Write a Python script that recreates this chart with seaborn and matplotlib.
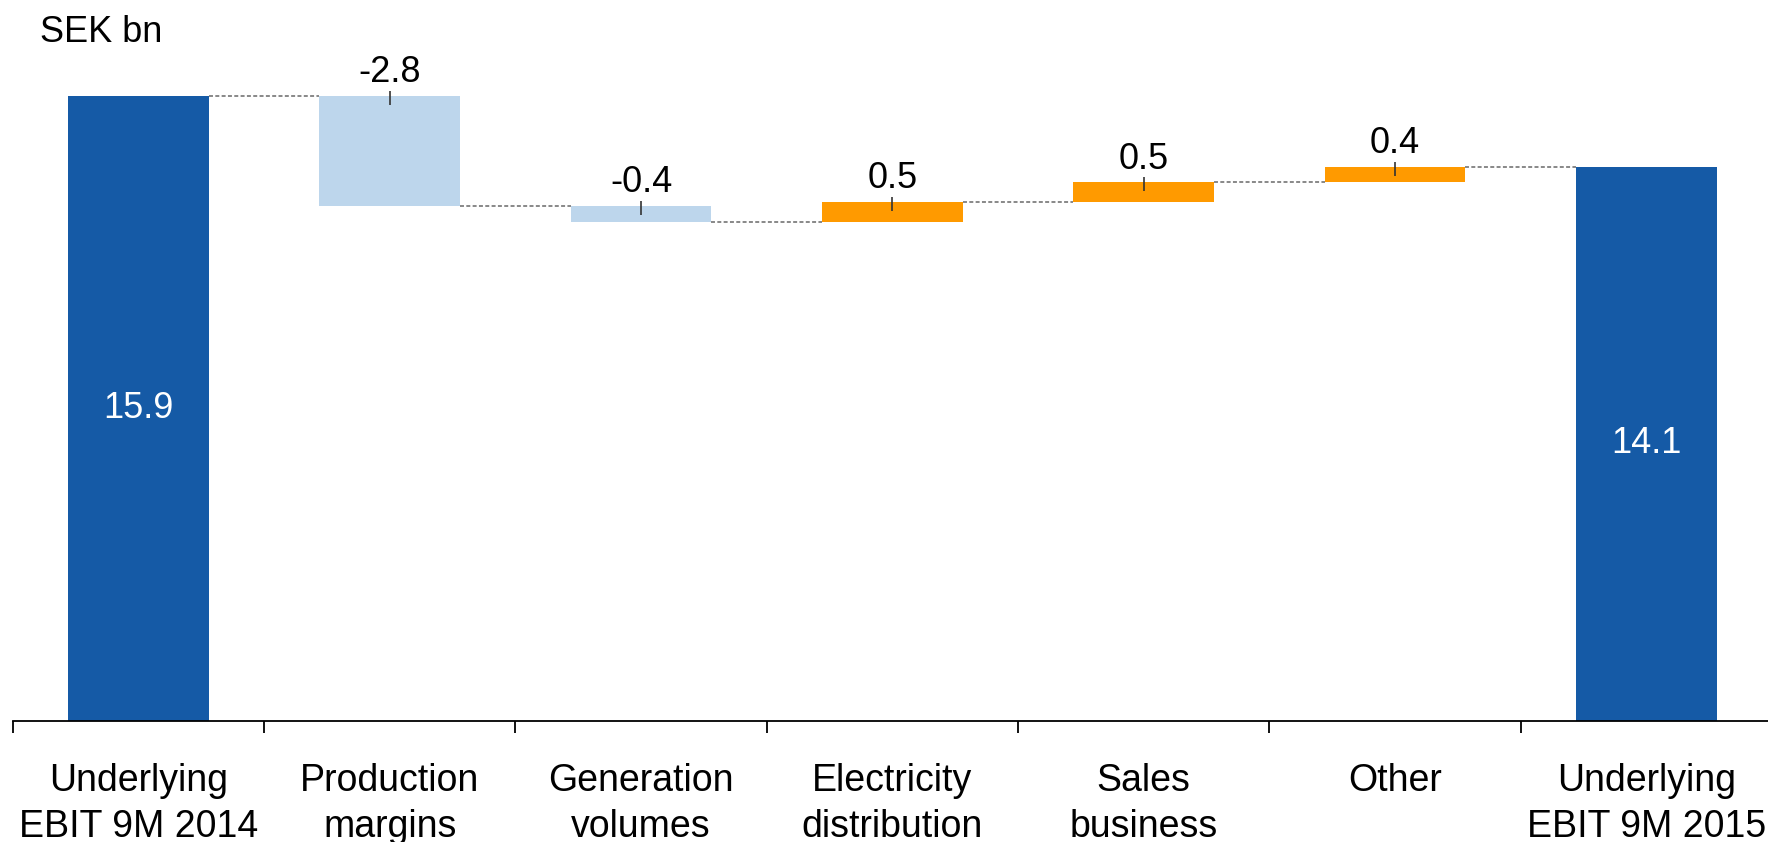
import matplotlib
matplotlib.use("Agg")
import matplotlib.pyplot as plt
import numpy as np
import pandas as pd
import seaborn as sns

# ---- data -------------------------------------------------------------
categories = [
    "Underlying\nEBIT 9M 2014",
    "Production\nmargins",
    "Generation\nvolumes",
    "Electricity\ndistribution",
    "Sales\nbusiness",
    "Other",
    "Underlying\nEBIT 9M 2015",
]
start_total = 15.9
changes = [-2.8, -0.4, 0.5, 0.5, 0.4]
end_total = 14.1
unit_label = "SEK bn"

# ---- styling ----------------------------------------------------------
TOTAL_COLOR = "#155AA6"
DECREASE_COLOR = "#BDD6EC"
INCREASE_COLOR = "#FF9A00"
CONNECTOR_COLOR = "#7F7F7F"
FONT_SIZE = 26
TICK_FONT_SIZE = 27
BAR_WIDTH = 0.56

sns.set_style("white")
plt.rcParams["font.family"] = ["Liberation Sans", "DejaVu Sans"]

# running level after each step of the bridge
levels = [start_total]
for c in changes:
    levels.append(round(levels[-1] + c, 2))

bottoms = [0.0]
heights = [start_total]
colors = [TOTAL_COLOR]
for i, c in enumerate(changes):
    bottoms.append(min(levels[i], levels[i + 1]))
    heights.append(abs(c))
    colors.append(INCREASE_COLOR if c > 0 else DECREASE_COLOR)
bottoms.append(0.0)
heights.append(end_total)
colors.append(TOTAL_COLOR)

df = pd.DataFrame({"category": categories, "height": heights})

W, H, DPI = 1768, 842, 100
fig = plt.figure(figsize=(W / DPI, H / DPI), dpi=DPI)

# axes geometry in pixels
axis_y_px = 721.0          # baseline of the bars, from the top
left_px = 12.7
slot_px = 251.33
y_max = 18.34
ax = fig.add_axes([left_px / W, (H - axis_y_px) / H, 7 * slot_px / W, axis_y_px / H])

sns.barplot(
    data=df, x="category", y="height", order=categories,
    bottom=bottoms, width=BAR_WIDTH, errorbar=None,
    color=TOTAL_COLOR, saturation=1, ax=ax,
)
for patch, col in zip(ax.patches, colors):
    patch.set_facecolor(col)
    patch.set_edgecolor("none")
    patch.set_linewidth(0)

ax.set_xlim(-0.5, len(categories) - 0.5)
ax.set_ylim(0, y_max)
px_per_unit = axis_y_px / y_max

# dashed connectors between consecutive bars
for i, lvl in enumerate(levels):
    ax.plot([i + BAR_WIDTH / 2, i + 1 - BAR_WIDTH / 2], [lvl, lvl],
            color=CONNECTOR_COLOR, lw=1.3, linestyle=(0, (2.2, 1.3)),
            solid_capstyle="butt", dash_capstyle="butt", zorder=3)

# totals: white value inside the bar
for i in (0, len(categories) - 1):
    ax.text(i, heights[i] / 2, f"{heights[i]:.1f}", color="white",
            ha="center", va="center", fontsize=FONT_SIZE, zorder=4)

# changes: value above the bar with a small marker at the top edge
for k, c in enumerate(changes):
    i = k + 1
    top = bottoms[i] + heights[i]
    ax.plot([i, i], [top + 5 / px_per_unit, top - 9 / px_per_unit],
            color="#333333", lw=1.2, solid_capstyle="butt", zorder=4)
    ax.annotate(f"{c:.1f}", xy=(i, top), xytext=(0, 10), textcoords="offset points",
                ha="center", va="baseline", fontsize=FONT_SIZE, color="black")

# axis styling: bottom spine with ticks between categories
sns.despine(ax=ax, left=True, top=True, right=True)
ax.spines["bottom"].set_linewidth(1.3)
ax.spines["bottom"].set_color("black")
ax.set_yticks([])
ax.set_xlabel("")
ax.set_ylabel("")
ax.set_xticks(np.arange(-0.5, len(categories), 1.0), minor=True)
ax.tick_params(axis="x", which="minor", length=8.6, width=1.3, color="black", bottom=True)
ax.tick_params(axis="x", which="major", length=0, pad=30, labelsize=TICK_FONT_SIZE,
               labelcolor="black")
for lab in ax.get_xticklabels():
    lab.set_linespacing(1.38)

fig.text(40 / W, (H - 41.7) / H, unit_label, fontsize=FONT_SIZE,
         ha="left", va="baseline", color="black")

fig.savefig("out.png", dpi=DPI)
